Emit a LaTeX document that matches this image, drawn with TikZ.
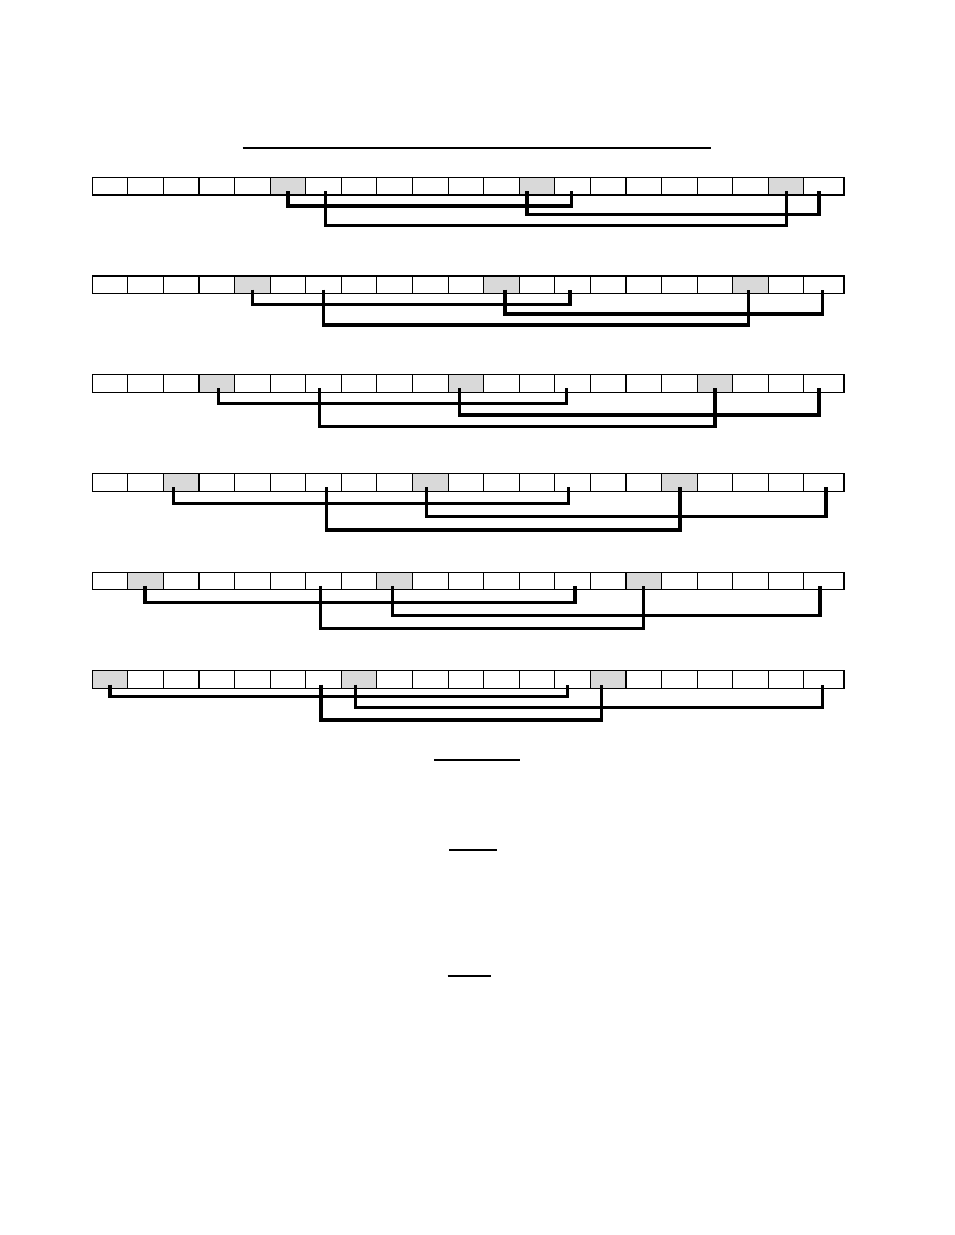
\documentclass[tikz,border=0pt]{standalone}
\usetikzlibrary{calc}
\tikzset{
  cell/.style={draw=black, line width=1.1pt, inner sep=0pt, outer sep=0pt, anchor=north west, minimum height=17.7pt},
  br/.style={draw=black, line width=3.2pt, line join=miter, line cap=butt},
  rule/.style={draw=black, line width=2pt}
}
\newcommand\mybracket[6]{%
  \coordinate (s) at ([xshift=#3pt,yshift=4pt]r#1-#2.south);
  \coordinate (e) at ([xshift=#5pt,yshift=4pt]r#1-#4.south);
  \coordinate (L) at (0,#6);
  \draw[br] (s) -- (s |- L) -| (e);}
\begin{document}
\begin{tikzpicture}[x=1pt,y=-1pt]
\useasboundingbox (0,0) rectangle (954,1235);
\fill[white] (0,0) rectangle (954,1235);
% cells
\foreach \r in {1,...,6}{
  \foreach \c in {0,...,20}{
    \pgfmathsetmacro\ytop{177.3+98.7*(\r-1)}
    \pgfmathsetmacro\xl{92.3+35.58*\c}
    \pgfmathsetmacro\w{\c==20 ? 40.1 : 35.58}
    \pgfmathtruncatemacro\sh{mod(\c+\r,7)==6 ? 1 : 0}
    \ifnum\sh=1 \def\cf{gray!30}\else\def\cf{white}\fi
    \node[cell, fill=\cf, minimum width=\w pt] (r\r-\c) at (\xl,\ytop) {};
  }
}
% brackets
\mybracket{1}{5}{0}{13}{-1}{206}
\mybracket{1}{6}{2}{19}{0}{225.7}
\mybracket{1}{12}{-10}{20}{-5}{214.3}
\mybracket{2}{4}{0}{13}{-2.6}{304.3}
\mybracket{2}{6}{0}{18}{-2}{325}
\mybracket{2}{11}{3.5}{20}{-1.6}{314}
\mybracket{3}{3}{1.5}{13}{-6}{403.3}
\mybracket{3}{6}{-4}{17}{0}{426.7}
\mybracket{3}{10}{-6}{20}{-5}{415}
\mybracket{4}{2}{-8}{13}{-4}{503.3}
\mybracket{4}{6}{3}{16}{0.6}{530}
\mybracket{4}{9}{-3.6}{20}{2}{516.7}
\mybracket{5}{1}{-0.7}{13}{2.4}{602.3}
\mybracket{5}{6}{-3}{15}{0}{628.3}
\mybracket{5}{8}{-2.4}{20}{-4}{615.7}
\mybracket{6}{0}{0}{13}{-5}{696.7}
\mybracket{6}{6}{-2.6}{14}{-7}{720}
\mybracket{6}{7}{-3.5}{20}{-1.6}{707.7}
% rules
\draw[rule] (242.7,147.7) -- (710.7,147.7);
\draw[rule] (434,760) -- (520,760);
\draw[rule, line width=1.5pt] (449,850) -- (497,850);
\draw[rule, line width=1.5pt] (447.7,976) -- (491,976);
\end{tikzpicture}
\end{document}
